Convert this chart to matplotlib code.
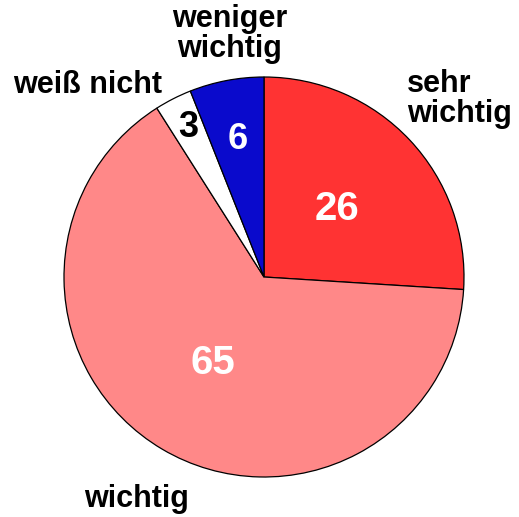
import numpy as np
import matplotlib
matplotlib.use("Agg")
import matplotlib.pyplot as plt

categories = ["sehr\nwichtig", "wichtig", "weiß nicht", "weniger\nwichtig"]
values = [26, 65, 3, 6]
colors = ["#FF3333", "#FF8888", "#FFFFFF", "#0A0ACC"]
value_colors = ["white", "white", "black", "white"]

plt.rcParams['font.family'] = ['Liberation Sans', 'DejaVu Sans']

fig = plt.figure(figsize=(5.19, 5.17), dpi=100)
ax = fig.add_axes([64/519, 40/517, 400/519, 400/517])
wedges, _ = ax.pie(values, colors=colors, startangle=90, counterclock=False,
                   radius=1.0, wedgeprops=dict(edgecolor="black", linewidth=0.9))
ax.set_xlim(-1, 1)
ax.set_ylim(-1, 1)
ax.set_aspect('equal')
ax.axis('off')

# value labels at wedge mid-angles
value_radius = [0.5, 0.5, 0.84, 0.70]
value_sizes = [29, 29, 26, 26]
for w, v, r, c, s in zip(wedges, values, value_radius, value_colors, value_sizes):
    ang = np.deg2rad((w.theta1 + w.theta2) / 2)
    ax.text(r*np.cos(ang), r*np.sin(ang), str(v), ha='center', va='center',
            fontsize=s, fontweight='bold', color=c)

# category labels
label_pos = [(0.715, 0.89, 'left'), (-0.635, -1.11, 'center'),
             (-0.88, 0.96, 'center'), (-0.17, 1.215, 'center')]
for cat, (x, y, ha) in zip(categories, label_pos):
    ax.text(x, y, cat, ha=ha, va='center', fontsize=22, fontweight='bold',
            color='black', linespacing=1.0, clip_on=False)

fig.savefig("out.png", dpi=100)
